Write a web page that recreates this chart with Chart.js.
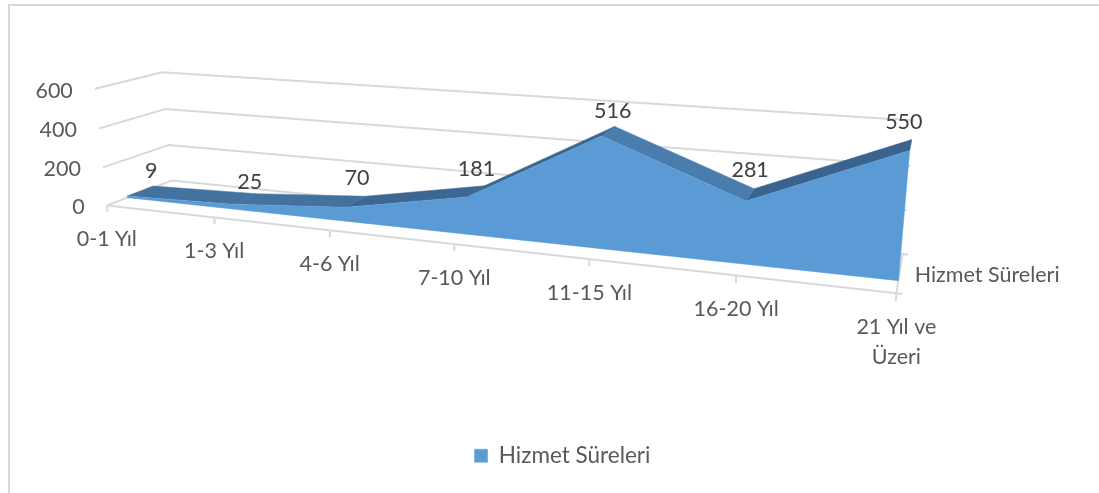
<!DOCTYPE html>
<html>
<head>
<meta charset="utf-8">
<style>
  html, body { margin: 0; padding: 0; background: #fff; }
  #wrap { position: relative; width: 1099px; height: 493px; }
</style>
<script src="https://cdn.jsdelivr.net/npm/chart.js@4/dist/chart.umd.min.js"></script>
</head>
<body>
<div id="wrap"><canvas id="chart" width="1099" height="493"></canvas></div>
<script>
// -------- DATA ---------------
const categories = ["0-1 Yıl", "1-3 Yıl", "4-6 Yıl", "7-10 Yıl", "11-15 Yıl", "16-20 Yıl", ["21 Yıl ve", "Üzeri"]];
const values = [9, 25, 70, 181, 516, 281, 550];
const yTicks = [0, 200, 400, 600];
const seriesName = "Hizmet Süreleri";

// -------- STYLE ---------------
const fontName = "Lato";
const fontSize = 21.5;
const legendFontSize = 22.5;
const gridColor = "#d9d9d9";
const axisText = "#595959";
const labelText = "#404040";
const frontColor = "#5b9bd5";
const topShades = ["#44729f", "#44729f", "#3c6792", "#3a658f", "#4a7cad", "#3a648e"];
const labelNudge = [[-2, -15], [-6, -12], [-9, -18], [-8, -17], [-2, -15], [-4, -19], [-8, -18]];

// -------- 3D PROJECTION (floor corners and vertical) ------------------------------------
const O = { x: 106, y: 205 }, X = { x: 897, y: 293 }, Y = { x: 171, y: 180 }, Z = { x: 94, y: 88 };
const ax = 0.786, ay = 1.082, az = 0.973;
const areaFront = 0.3, areaBack = 0.7;
const yMax = yTicks[yTicks.length - 1];

function project(u, w, t) {
    const d = 1 + (ax - 1) * u + (ay - 1) * w + (az - 1) * t;
    return {
        x: (O.x + u * (ax * X.x - O.x) + w * (ay * Y.x - O.x) + t * (az * Z.x - O.x)) / d,
        y: (O.y + u * (ax * X.y - O.y) + w * (ay * Y.y - O.y) + t * (az * Z.y - O.y)) / d
    };
}
const at = (i, w, v) => project(i / (values.length - 1), w, v / yMax);
const gap = { x: NaN, y: NaN };

function lineSet(points, order) {
    return { data: points, showLine: true, pointRadius: 0, borderColor: gridColor, borderWidth: 2, tension: 0, order: order, fill: false, label: "" };
}
function polySet(points, color, order, label) {
    return { data: points, showLine: true, pointRadius: 0, borderColor: color, backgroundColor: color, borderWidth: 0.5, tension: 0, order: order, fill: "shape", label: label || "" };
}

// ------------ WALLS AND AXES -----------------
const datasets = [];
yTicks.forEach(v => {
    datasets.push(lineSet([project(0, 0, v / yMax), project(0, 1, v / yMax), project(1, 1, v / yMax)], 6));
});
datasets.push(lineSet([project(0, 0, 0), project(1, 0, 0)], 5));
datasets.push(lineSet([project(1, 0, 0), project(1, 1, 0)], 5));

const tickMarks = [];
values.forEach((v, i) => {
    tickMarks.push(at(i, 0, 0), at(i, 0, -yMax * 0.055), gap);
});
tickMarks.push(project(1, 0, 0), project(1.006, 0, 0), gap, project(1, 1, 0), project(1.006, 1, 0));
datasets.push(lineSet(tickMarks, 5));

// ------------ TOP RIBBON, ONE FACE PER SEGMENT -----------------
values.slice(0, -1).forEach((v, i) => {
    const next = values[i + 1];
    datasets.push(polySet([at(i, areaFront, v), at(i, areaBack, v), at(i + 1, areaBack, next), at(i + 1, areaFront, next)], topShades[i], 2));
});

// ------------ FRONT FACE -----------------
const frontPoints = values.map((v, i) => at(i, areaFront, v));
frontPoints.push(at(values.length - 1, areaFront, 0), at(0, areaFront, 0));
datasets.push(polySet(frontPoints, frontColor, 1, seriesName));
const seriesIndex = datasets.length - 1;

// ------------ FRAME AND TEXT -----------------
const textPlugin = {
    id: "chartText",
    afterLayout(chart) {
        // legend sits right of centre in the picture
        if (chart.legend) chart.legend.left = 26;
    },
    beforeDraw(chart) {
        const c = chart.ctx;
        c.save();
        c.strokeStyle = gridColor;
        c.lineWidth = 2;
        c.beginPath();
        c.moveTo(9, chart.height);
        c.lineTo(9, 5);
        c.lineTo(chart.width, 5);
        c.stroke();
        c.restore();
    },
    afterDraw(chart) {
        const c = chart.ctx, sx = chart.scales.x, sy = chart.scales.y;
        const px = p => ({ x: sx.getPixelForValue(p.x), y: sy.getPixelForValue(p.y) });
        c.save();
        c.font = fontSize + "px " + fontName;
        c.textBaseline = "middle";

        c.fillStyle = axisText;
        c.textAlign = "right";
        yTicks.forEach(v => {
            const p = px(project(0, 0, v / yMax));
            c.fillText(String(v), p.x - 22, p.y + 2);
        });

        c.textAlign = "center";
        categories.forEach((name, i) => {
            const p = px(at(i, 0, 0));
            const lines = Array.isArray(name) ? name : [name];
            lines.forEach((line, n) => c.fillText(line, p.x, p.y + 34 + n * 30));
        });

        c.textAlign = "left";
        const depth = px(project(1, 0.5, 0));
        c.fillText(seriesName, depth.x + 15, depth.y + 2);

        c.fillStyle = labelText;
        c.textAlign = "center";
        values.forEach((v, i) => {
            const p = px(at(i, areaBack, v));
            c.fillText(String(v), p.x + labelNudge[i][0], p.y + labelNudge[i][1]);
        });
        c.restore();
    }
};

const chart = new Chart(document.getElementById("chart"), {
    type: "scatter",
    data: { datasets: datasets },
    plugins: [textPlugin],
    options: {
        responsive: false,
        maintainAspectRatio: false,
        animation: false,
        events: [],
        layout: { padding: { left: 0, right: 0, top: 0, bottom: 16 } },
        scales: {
            x: { type: "linear", display: false, min: 0, max: 1099 },
            y: { type: "linear", display: false, reverse: true, min: 0, max: 430 }
        },
        plugins: {
            tooltip: { enabled: false },
            legend: {
                position: "bottom",
                labels: {
                    filter: item => item.datasetIndex === seriesIndex,
                    boxWidth: 13,
                    boxHeight: 13,
                    color: axisText,
                    font: { family: fontName, size: legendFontSize }
                }
            }
        }
    }
});
// y data space is canvas pixels, so it has to end where the plot area ends above the legend
chart.options.scales.y.max = chart.chartArea.bottom;
chart.update();
</script>
</body>
</html>
